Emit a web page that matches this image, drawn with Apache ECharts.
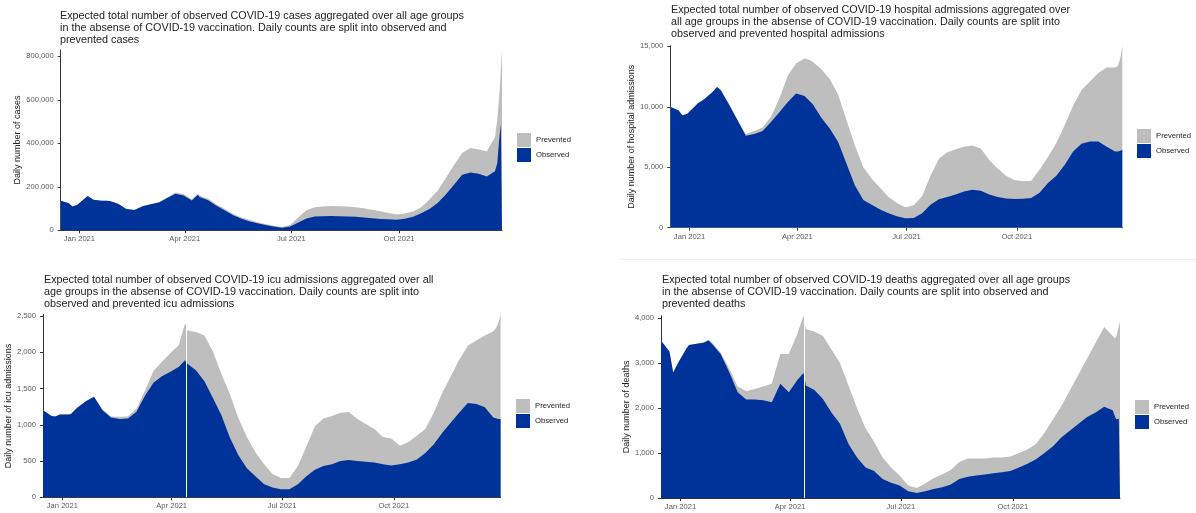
<!DOCTYPE html>
<html>
<head>
<meta charset="utf-8">
<script src="https://cdn.jsdelivr.net/npm/echarts@6/dist/echarts.min.js"></script>
<style>
  html, body { margin: 0; padding: 0; background: #fff; }
  #chart { width: 1196px; height: 513px; }
</style>
</head>
<body>
<div id="chart"></div>
<script>
// Sample dates shared by all four panels
const dates = [
  '2020-12-16','2020-12-23','2020-12-26','2020-12-30','2021-01-06','2021-01-08','2021-01-13','2021-01-20','2021-01-24','2021-01-27',
  '2021-02-03','2021-02-10','2021-02-17','2021-02-24','2021-03-03','2021-03-10','2021-03-17','2021-03-24','2021-03-31','2021-04-07',
  '2021-04-12','2021-04-14','2021-04-21','2021-04-28','2021-05-05','2021-05-12','2021-05-19','2021-05-26','2021-06-02','2021-06-09',
  '2021-06-16','2021-06-23','2021-06-30','2021-07-07','2021-07-14','2021-07-21','2021-07-28','2021-08-04','2021-08-11','2021-08-18',
  '2021-08-25','2021-09-01','2021-09-08','2021-09-15','2021-09-22','2021-09-29','2021-10-06','2021-10-13','2021-10-20','2021-10-27',
  '2021-11-03','2021-11-10','2021-11-17','2021-11-24','2021-12-01','2021-12-08','2021-12-15','2021-12-22','2021-12-24','2021-12-25',
  '2021-12-26','2021-12-27','2021-12-28'
];

const xStart = '2020-12-16';
const xEnd = '2021-12-28';
const tickDates = ['2021-01-01', '2021-04-01', '2021-07-01', '2021-10-01'];
const tickLabels = ['Jan 2021', 'Apr 2021', 'Jul 2021', 'Oct 2021'];
const gapDates = ['2021-04-13'];

const casesObserved = [
  136000,124000,110000,116000,148000,158000,140000,136000,136000,135000,
  122000,98000,93000,111000,120000,128000,148000,168000,160000,137000,
  162000,152000,138000,113000,92000,70000,54000,42000,32000,24000,
  17000,12000,17000,36000,54000,63000,65000,66000,65000,64000,
  62000,59000,55000,52000,51000,48000,53000,62000,78000,98000,
  125000,165000,210000,255000,266000,260000,247000,272000,310000,380000,
  440000,486000,486000
];
const casesPrevented = [
  0,0,0,0,0,0,0,0,0,0,
  0,1000,1000,1000,1000,2000,3000,6000,7000,6000,
  7000,7000,7000,7000,7000,6000,6000,6000,5000,5000,
  4000,3000,7000,24000,38000,43000,45000,46000,46000,45000,
  44000,42000,40000,36000,29000,25000,24000,24000,28000,44000,
  57000,75000,90000,100000,112000,112000,116000,156000,200000,200000,
  200000,254000,344000
];

const hospObserved = [
  10000,9700,9300,9400,10100,10300,10600,11200,11650,11400,
  10200,8900,7600,7750,8000,8750,9550,10400,11100,10900,
  10400,10200,9100,8200,7100,5300,3500,2300,1900,1500,
  1200,950,780,800,1200,1900,2350,2550,2750,3000,
  3130,3050,2750,2550,2420,2380,2400,2450,2900,3700,
  4300,5200,6300,6950,7130,7140,6700,6300,6300,6320,
  6350,6400,6450
];
const hospPrevented = [
  0,0,0,0,0,0,0,0,0,0,
  0,50,150,250,300,450,1150,2200,2500,3100,
  3450,3500,4000,4100,3900,3600,3300,2700,2150,1800,
  1350,1100,920,1050,1400,2400,3350,3700,3750,3700,
  3670,3500,2850,2350,1880,1570,1450,1430,1900,2150,
  2700,3300,3800,4450,4970,5660,6550,6950,7050,7280,
  7550,8000,8600
];

const icuObserved = [
  1200,1120,1115,1140,1140,1150,1230,1320,1360,1385,
  1200,1100,1080,1085,1180,1400,1580,1670,1730,1800,
  1890,1840,1750,1600,1370,1130,820,580,400,290,
  185,135,110,110,180,290,380,430,455,500,
  515,500,490,480,455,440,455,480,520,610,
  730,890,1030,1170,1300,1285,1240,1100,1090,1085,
  1080,1080,1080
];
const icuPrevented = [
  0,0,0,0,0,0,0,0,0,5,
  10,15,30,30,40,70,160,200,260,300,
  510,460,530,630,640,570,600,510,430,330,
  275,185,155,155,250,410,600,655,665,665,
  660,580,520,460,375,370,255,280,330,330,
  440,550,640,730,790,875,990,1190,1240,1275,
  1320,1370,1440
];

const deathsObserved = [
  3500,3250,2790,3000,3330,3400,3420,3450,3500,3420,
  3200,2800,2350,2190,2190,2170,2130,2540,2350,2620,
  2780,2500,2400,2200,1900,1650,1200,900,680,600,
  420,340,280,150,110,150,200,240,300,420,
  470,500,520,550,570,600,680,760,860,1000,
  1150,1350,1500,1650,1800,1900,2030,1950,1800,1750,
  1750,1760,1780
];
const deathsPrevented = [
  0,0,0,0,0,0,0,10,20,30,
  30,80,130,190,230,310,410,660,850,1030,
  1270,1250,1300,1400,1400,1350,1300,1100,870,650,
  480,340,220,130,110,170,240,290,320,380,
  410,380,360,350,330,320,320,320,340,450,
  600,700,900,1100,1300,1550,1770,1650,1750,1850,
  1950,2040,2150
];

const casesTicks = [0, 200000, 400000, 600000, 800000];
const hospTicks = [0, 5000, 10000, 15000];
const icuTicks = [0, 500, 1000, 1500, 2000, 2500];
const deathsTicks = [0, 1000, 2000, 3000, 4000];

const BLUE = '#003399';
const GREY = '#bebebe';
const FONT = '"Liberation Sans", Arial, Helvetica, sans-serif';

const panels = [
  {
    title: 'Expected total number of observed COVID-19 cases aggregated over all age groups\nin the absense of COVID-19 vaccination. Daily counts are split into observed and\nprevented cases',
    yName: 'Daily number of cases',
    observed: casesObserved, prevented: casesPrevented, ticks: casesTicks, gaps: [],
    grid: { left: 60.7, top: 49.8, width: 441.3, height: 180.5 },
    titlePos: { left: 60, top: 10 }, legendPos: { left: 517, top: 133 }, nameGap: 32
  },
  {
    title: 'Expected total number of observed COVID-19 hospital admissions aggregated over\nall age groups in the absense of COVID-19 vaccination. Daily counts are split into\nobserved and prevented hospital admissions',
    yName: 'Daily number of hospital admissions',
    observed: hospObserved, prevented: hospPrevented, ticks: hospTicks, gaps: [],
    grid: { left: 670.3, top: 45.8, width: 452, height: 181.9 },
    titlePos: { left: 671, top: 4 }, legendPos: { left: 1137, top: 129 }, nameGap: 30
  },
  {
    title: 'Expected total number of observed COVID-19 icu admissions aggregated over all\nage groups in the absense of COVID-19 vaccination. Daily counts are split into\nobserved and prevented icu admissions',
    yName: 'Daily number of icu admissions',
    observed: icuObserved, prevented: icuPrevented, ticks: icuTicks, gaps: gapDates,
    grid: { left: 43, top: 314.5, width: 457.6, height: 182.8 },
    titlePos: { left: 44, top: 274 }, legendPos: { left: 516, top: 399 }, nameGap: 25.5
  },
  {
    title: 'Expected total number of observed COVID-19 deaths aggregated over all age groups\nin the absense of COVID-19 vaccination. Daily counts are split into observed and\nprevented deaths',
    yName: 'Daily number of deaths',
    observed: deathsObserved, prevented: deathsPrevented, ticks: deathsTicks, gaps: gapDates,
    grid: { left: 661, top: 315.75, width: 459, height: 182.25 },
    titlePos: { left: 662, top: 274 }, legendPos: { left: 1135, top: 400 }, nameGap: 25.5
  }
];

// Dates are placed on a numeric (millisecond) axis so ticks can sit on exact month starts
const toTime = s => echarts.number.parseDate(s).getTime();
const tickTimes = tickDates.map(toTime);
const formatDateTick = v => {
  const k = tickTimes.indexOf(v);
  return k >= 0 ? tickLabels[k] : '';
};
const axisColor = '#333';
const labelStyle = { fontSize: 7.6, color: '#5a5a5a', fontFamily: FONT };

const option = {
  animation: false,
  backgroundColor: '#fff',
  title: panels.map(p => ({
    text: p.title, left: p.titlePos.left, top: p.titlePos.top, padding: 0,
    textStyle: { fontSize: 10.8, lineHeight: 12, fontWeight: 'normal', color: '#222', fontFamily: FONT }
  })),
  legend: panels.map(p => ({
    orient: 'vertical', left: p.legendPos.left, top: p.legendPos.top, padding: 0,
    itemWidth: 14, itemHeight: 14, itemGap: 1, icon: 'rect', selectedMode: false,
    data: ['Prevented', 'Observed'],
    textStyle: { fontSize: 7.7, color: '#222', fontFamily: FONT }
  })),
  grid: panels.map(p => Object.assign({ containLabel: false }, p.grid)),
  xAxis: panels.map((p, i) => ({
    type: 'value', gridIndex: i, min: toTime(xStart), max: toTime(xEnd), scale: true,
    axisLine: { show: true, onZero: false, lineStyle: { color: axisColor, width: 1 } },
    axisTick: { show: true, length: 3, customValues: tickTimes, lineStyle: { color: axisColor } },
    axisLabel: Object.assign({ customValues: tickTimes, formatter: formatDateTick, margin: 5 }, labelStyle),
    splitLine: { show: false }
  })),
  yAxis: panels.map((p, i) => ({
    type: 'value', gridIndex: i, min: 0,
    max: Math.max(...p.observed.map((v, k) => v + p.prevented[k])),
    name: p.yName, nameLocation: 'middle', nameGap: p.nameGap,
    nameTextStyle: { fontSize: 9, color: '#222', fontFamily: FONT },
    axisLine: { show: true, lineStyle: { color: axisColor, width: 1 } },
    axisTick: { show: true, length: 3, customValues: p.ticks, lineStyle: { color: axisColor } },
    axisLabel: Object.assign({ customValues: p.ticks, formatter: v => v.toLocaleString('en-US'), margin: 7 }, labelStyle),
    splitLine: { show: false }
  })),
  graphic: [{
    type: 'line', silent: true,
    shape: { x1: 620, y1: 259.5, x2: 1196, y2: 259.5 },
    style: { stroke: '#ececec', lineWidth: 1 }
  }],
  series: []
};

panels.forEach((p, i) => {
  // Prevented counts sit on top of the observed counts: the grey band spans
  // from the observed level up to observed + prevented.
  option.series.push({
    type: 'line', name: 'Prevented', xAxisIndex: i, yAxisIndex: i, z: 2,
    data: dates.map((d, k) => [toTime(d), p.observed[k] + p.prevented[k]]),
    symbol: 'none', silent: true, color: GREY,
    lineStyle: { width: 0 }, itemStyle: { color: GREY },
    areaStyle: { color: GREY, opacity: 1 }
  });
  const observed = {
    type: 'line', name: 'Observed', xAxisIndex: i, yAxisIndex: i, z: 3,
    data: dates.map((d, k) => [toTime(d), p.observed[k]]),
    symbol: 'none', silent: true, color: BLUE,
    lineStyle: { width: 0 }, itemStyle: { color: BLUE },
    areaStyle: { color: BLUE, opacity: 1 }
  };
  if (p.gaps.length) {
    // Days without a reported value show as a thin white gap through the bars
    observed.markLine = {
      silent: true, symbol: ['none', 'none'], label: { show: false },
      lineStyle: { color: '#ffffff', width: 1, type: 'solid' },
      data: p.gaps.map(d => ({ xAxis: toTime(d) }))
    };
  }
  option.series.push(observed);
});

const chart = echarts.init(document.getElementById('chart'), null, { renderer: 'canvas' });
chart.setOption(option);
</script>
</body>
</html>
